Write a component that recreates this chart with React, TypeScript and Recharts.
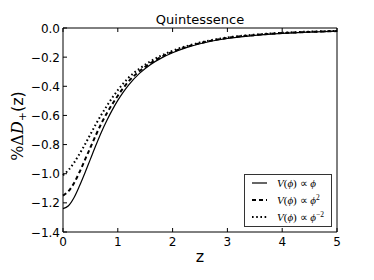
import React from 'react';
import { LineChart, Line, XAxis, YAxis, Legend } from 'recharts';

const zValues = [0, 0.1, 0.2, 0.3, 0.4, 0.5, 0.6, 0.7, 0.8, 0.9, 1.0, 1.1, 1.2, 1.4, 1.6, 1.8, 2.0, 2.25, 2.5, 3.0, 3.5, 4.0, 4.5, 5.0];
const phiValues = [-1.24, -1.22, -1.165, -1.085, -0.995, -0.9, -0.805, -0.715, -0.635, -0.562, -0.497, -0.44, -0.39, -0.31, -0.25, -0.205, -0.17, -0.135, -0.108, -0.072, -0.051, -0.037, -0.028, -0.022];
const phi2Values = [-1.15, -1.12, -1.065, -0.99, -0.905, -0.82, -0.735, -0.655, -0.585, -0.522, -0.465, -0.412, -0.365, -0.295, -0.24, -0.197, -0.163, -0.13, -0.104, -0.068, -0.048, -0.035, -0.027, -0.021];
const phiM2Values = [-1.01, -0.975, -0.925, -0.865, -0.8, -0.73, -0.66, -0.595, -0.535, -0.478, -0.427, -0.381, -0.34, -0.278, -0.228, -0.188, -0.156, -0.125, -0.1, -0.065, -0.046, -0.033, -0.025, -0.02];

const xTicks = [0, 1, 2, 3, 4, 5];
const yTicks = [0, -0.2, -0.4, -0.6, -0.8, -1.0, -1.2, -1.4];
const titleText = 'Quintessence';
const xLabelText = 'z';

const data = zValues.map((z, i) => ({
  z,
  phi: phiValues[i],
  phi2: phi2Values[i],
  phiM2: phiM2Values[i],
}));

const FONT = '"DejaVu Sans", sans-serif';

const fmtY = (v: number) => (v === 0 ? '0.0' : '\u2212' + Math.abs(v).toFixed(1));

const BottomTick = (props: any) => {
  const { x, y, payload } = props;
  return (
    <g>
      <line x1={x} x2={x} y1={y} y2={y - 4} stroke="#000" strokeWidth={1} />
      <text x={x} y={y + 14} textAnchor="middle" fontSize={12} fontFamily={FONT} fill="#000">
        {payload.value}
      </text>
    </g>
  );
};

const TopTick = (props: any) => {
  const { x, y } = props;
  return <line x1={x} x2={x} y1={y} y2={y + 4} stroke="#000" strokeWidth={1} />;
};

const LeftTick = (props: any) => {
  const { x, y, payload } = props;
  return (
    <g>
      <line x1={x} x2={x + 4} y1={y} y2={y} stroke="#000" strokeWidth={1} />
      <text x={x - 3} y={y + 4.5} textAnchor="end" fontSize={12} fontFamily={FONT} fill="#000">
        {fmtY(payload.value)}
      </text>
    </g>
  );
};

const RightTick = (props: any) => {
  const { x, y } = props;
  return <line x1={x} x2={x - 4} y1={y} y2={y} stroke="#000" strokeWidth={1} />;
};

const TitleLabel = (props: any) => {
  const vb = props.viewBox || {};
  const cx = (vb.x || 0) + (vb.width || 0) / 2;
  return (
    <text x={cx} y={24} textAnchor="middle" fontSize={13} fontFamily={FONT} fill="#000">
      {titleText}
    </text>
  );
};

const XLabel = (props: any) => {
  const vb = props.viewBox || {};
  const cx = (vb.x || 0) + (vb.width || 0) / 2;
  return (
    <text x={cx} y={262} textAnchor="middle" fontSize={16} fontFamily={FONT} fill="#000">
      {xLabelText}
    </text>
  );
};

const YLabel = () => {
  const cx = 23;
  const cy = 126;
  return (
    <text
      x={cx}
      y={cy}
      transform={`rotate(-90, ${cx}, ${cy})`}
      textAnchor="middle"
      fontSize={16}
      fill="#000"
    >
      <tspan fontFamily='"DejaVu Serif", serif'>%Δ</tspan>
      <tspan fontFamily='"DejaVu Serif", serif' fontStyle="italic">D</tspan>
      <tspan fontFamily='"DejaVu Sans", sans-serif' fontSize={11} dy={3}>+</tspan>
      <tspan fontFamily={FONT} dy={-3}>(z)</tspan>
    </text>
  );
};

const legendItems = [
  { key: 'phi', dash: undefined as string | undefined, width: 1.2, sup: '' },
  { key: 'phi2', dash: '4 3', width: 2, sup: '2' },
  { key: 'phiM2', dash: '1.6 2.6', width: 2, sup: '\u22122' },
];

const LegendBox = () => (
  <svg width={88} height={53} style={{ display: 'block' }}>
    <rect x={0.5} y={0.5} width={87} height={52} fill="#fff" stroke="#333" strokeWidth={1} />
    {legendItems.map((it, i) => {
      const y = 9 + i * 17;
      return (
        <g key={it.key}>
          <line x1={8} x2={23} y1={y} y2={y} stroke="#000" strokeWidth={it.width} strokeDasharray={it.dash} />
          <text x={33} y={y + 4} fontSize={11} fontFamily='"Liberation Serif", serif' fill="#000">
            <tspan fontStyle="italic">V</tspan>
            <tspan>(</tspan>
            <tspan fontStyle="italic">ϕ</tspan>
            <tspan>) ∝ </tspan>
            <tspan fontStyle="italic">ϕ</tspan>
            {it.sup ? (
              <tspan fontSize={7.5} dy={-4}>{it.sup}</tspan>
            ) : null}
          </text>
        </g>
      );
    })}
  </svg>
);

export default function App() {
  return (
    <div style={{ position: 'absolute', left: 0, top: 0, width: 374, height: 280, background: '#fff' }}>
      <LineChart
        width={374}
        height={280}
        data={data}
        margin={{ top: 27, right: 36, bottom: 18, left: 0 }}
      >
        <XAxis
          xAxisId="bottom"
          dataKey="z"
          type="number"
          domain={[0, 5]}
          ticks={xTicks}
          orientation="bottom"
          height={30}
          tickSize={0}
          tickMargin={0}
          tickLine={false}
          axisLine={{ stroke: '#000', strokeWidth: 1 }}
          tick={<BottomTick />}
          label={<XLabel />}
          interval={0}
        />
        <XAxis
          xAxisId="top"
          dataKey="z"
          type="number"
          domain={[0, 5]}
          ticks={xTicks}
          orientation="top"
          height={1}
          tickSize={0}
          tickMargin={0}
          tickLine={false}
          axisLine={{ stroke: '#000', strokeWidth: 1 }}
          tick={<TopTick />}
          label={<TitleLabel />}
          interval={0}
        />
        <YAxis
          yAxisId="left"
          type="number"
          domain={[-1.4, 0]}
          ticks={yTicks}
          orientation="left"
          width={63}
          tickSize={0}
          tickMargin={0}
          tickLine={false}
          axisLine={{ stroke: '#000', strokeWidth: 1 }}
          tick={<LeftTick />}
          label={<YLabel />}
          interval={0}
        />
        <YAxis
          yAxisId="right"
          type="number"
          domain={[-1.4, 0]}
          ticks={yTicks}
          orientation="right"
          width={1}
          tickSize={0}
          tickMargin={0}
          tickLine={false}
          axisLine={{ stroke: '#000', strokeWidth: 1 }}
          tick={<RightTick />}
          interval={0}
        />
        <Legend
          layout="vertical"
          verticalAlign="middle"
          align="center"
          wrapperStyle={{ left: 244, top: 174, width: 88, height: 53 }}
          content={() => <LegendBox />}
        />
        <Line
          xAxisId="bottom"
          yAxisId="left"
          dataKey="phi"
          name="V(ϕ) ∝ ϕ"
          type="monotone"
          stroke="#000"
          strokeWidth={1.2}
          dot={false}
          activeDot={false}
          isAnimationActive={false}
        />
        <Line
          xAxisId="bottom"
          yAxisId="left"
          dataKey="phi2"
          name="V(ϕ) ∝ ϕ²"
          type="monotone"
          stroke="#000"
          strokeWidth={2}
          strokeDasharray="4 3"
          dot={false}
          activeDot={false}
          isAnimationActive={false}
        />
        <Line
          xAxisId="bottom"
          yAxisId="left"
          dataKey="phiM2"
          name="V(ϕ) ∝ ϕ⁻²"
          type="monotone"
          stroke="#000"
          strokeWidth={2}
          strokeDasharray="1.6 2.6"
          dot={false}
          activeDot={false}
          isAnimationActive={false}
        />
      </LineChart>
    </div>
  );
}
